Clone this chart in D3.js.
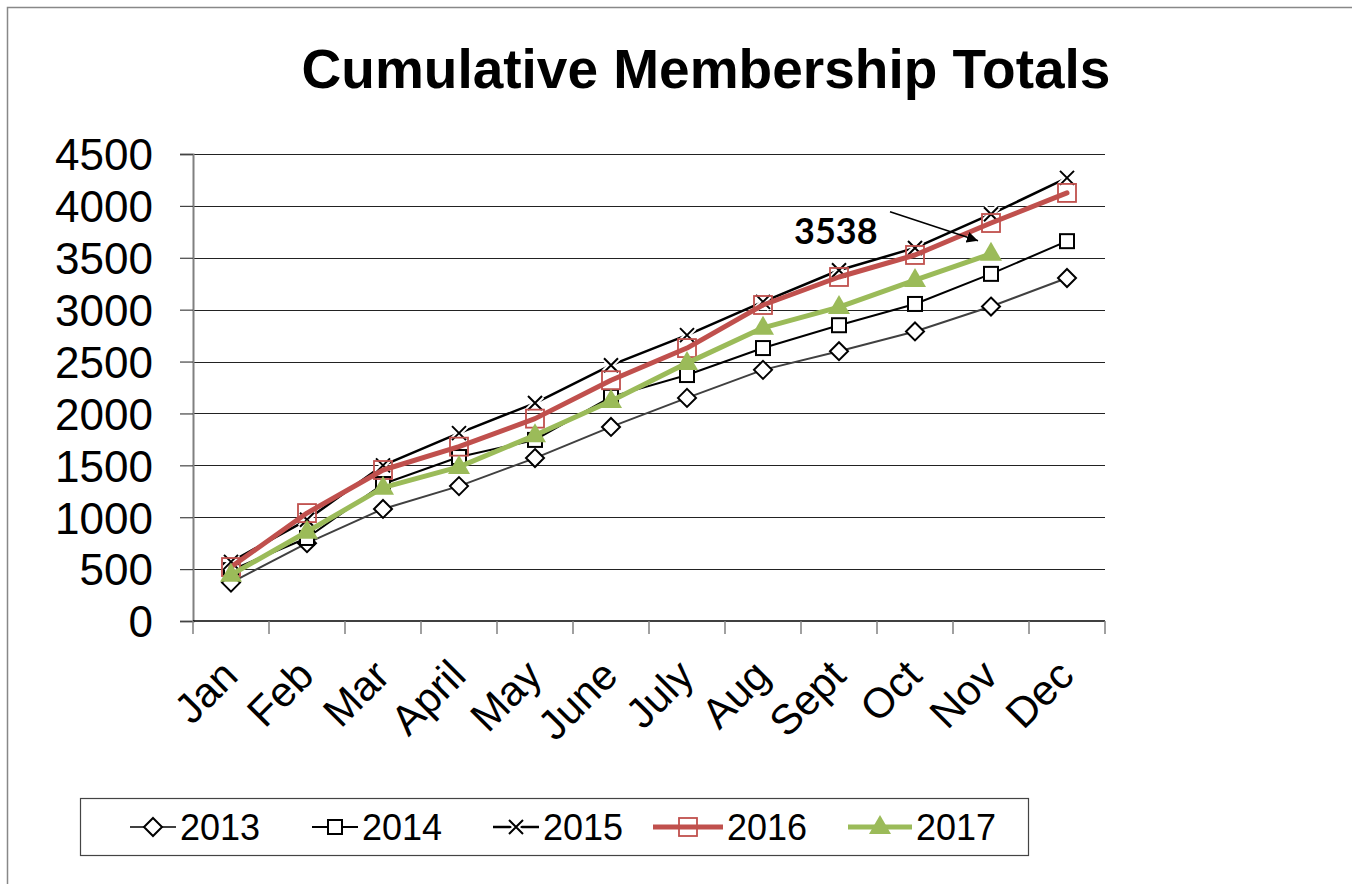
<!DOCTYPE html>
<html>
<head>
<meta charset="utf-8">
<script src="https://cdn.jsdelivr.net/npm/d3@7"></script>
<style>
  body { margin: 0; background: #fff; }
  svg { display: block; font-family: "Liberation Sans", Arial, sans-serif; }
</style>
</head>
<body>
<div id="chart"></div>
<script>
// Cumulative membership line chart

// --- data ---
const months = ['Jan', 'Feb', 'Mar', 'April', 'May', 'June', 'July', 'Aug', 'Sept', 'Oct', 'Nov', 'Dec'];
const yTicks = [0, 500, 1000, 1500, 2000, 2500, 3000, 3500, 4000, 4500];
const seriesNames = ['2013', '2014', '2015', '2016', '2017'];

const values2013 = [370, 750, 1080, 1300, 1570, 1870, 2150, 2420, 2600, 2790, 3030, 3305];
const values2014 = [490, 800, 1320, 1580, 1745, 2160, 2370, 2630, 2850, 3055, 3345, 3660];
const values2015 = [570, 975, 1500, 1810, 2100, 2465, 2755, 3075, 3380, 3595, 3920, 4270];
const values2016 = [520, 1040, 1455, 1680, 1950, 2320, 2630, 3045, 3315, 3527, 3835, 4125];
const values2017 = [445, 860, 1285, 1485, 1790, 2120, 2485, 2825, 3025, 3285, 3538];

const calloutValue = 3538;

// --- styles ---
const styles = {
  '2013': { stroke: '#404040', width: 2, marker: 'diamond', legendX: 130, sample: 46 },
  '2014': { stroke: '#000', width: 2, marker: 'square', legendX: 312, sample: 46 },
  '2015': { stroke: '#000', width: 2.5, marker: 'cross', legendX: 493, sample: 46 },
  '2016': { stroke: '#C0504D', width: 5, marker: 'redsquare', legendX: 653, sample: 70 },
  '2017': { stroke: '#9BBB59', width: 5, marker: 'triangle', legendX: 848, sample: 64 }
};

const seriesData = [values2013, values2014, values2015, values2016, values2017];
const series = seriesNames.map((name, i) => ({
  name,
  values: seriesData[i].map((v, j) => ({ month: months[j], value: v })),
  style: styles[name]
}));

const width = 1352, height = 884;
const plot = { left: 193, right: 1105, top: 154, bottom: 621 };

const svg = d3.select('#chart').append('svg')
  .attr('width', width)
  .attr('height', height);

svg.append('defs').append('marker')
  .attr('id', 'arrow')
  .attr('viewBox', '0 0 10 10')
  .attr('refX', 10).attr('refY', 5)
  .attr('markerWidth', 7).attr('markerHeight', 7)
  .attr('markerUnits', 'strokeWidth')
  .attr('orient', 'auto')
  .append('path')
  .attr('d', 'M0,0 L10,5 L0,10 Z')
  .attr('fill', '#000');

// outer frame (top + left edges visible)
svg.append('path')
  .attr('d', `M7.5,${height} L7.5,7.5 L${width},7.5`)
  .attr('fill', 'none')
  .attr('stroke', '#888')
  .attr('stroke-width', 1.5);

// title
svg.append('text')
  .attr('x', 706)
  .attr('y', 88)
  .attr('text-anchor', 'middle')
  .style('font-size', '55px')
  .style('font-weight', 'bold')
  .text('Cumulative Membership Totals');

// scales
const x = d3.scaleBand()
  .domain(months)
  .range([plot.left, plot.right])
  .padding(0);

const y = d3.scaleLinear()
  .domain([0, 4500])
  .range([plot.bottom, plot.top]);

const cx = m => x(m) + x.bandwidth() / 2;

// gridlines
svg.append('g')
  .selectAll('line')
  .data(yTicks.filter(d => d > 0))
  .join('line')
  .attr('x1', plot.left).attr('x2', plot.right)
  .attr('y1', d => Math.round(y(d)) + 0.5)
  .attr('y2', d => Math.round(y(d)) + 0.5)
  .attr('stroke', '#222')
  .attr('stroke-width', 1.2);

// y axis
const yAxis = svg.append('g')
  .attr('transform', `translate(${plot.left},0)`)
  .call(d3.axisLeft(y).tickValues(yTicks).tickFormat(d3.format('d')).tickSize(13).tickPadding(27));
yAxis.select('.domain').attr('stroke', '#808080').attr('stroke-width', 2);
yAxis.selectAll('.tick line').attr('stroke', '#444').attr('stroke-width', 1.2);
yAxis.selectAll('.tick text')
  .style('font-size', '44px')
  .style('font-family', '"Liberation Sans", Arial, sans-serif')
  .attr('fill', '#000')
  .attr('dy', '0.36em');

// x axis: baseline + boundary ticks
const xAxisG = svg.append('g');
xAxisG.append('line')
  .attr('x1', plot.left).attr('x2', plot.right)
  .attr('y1', plot.bottom).attr('y2', plot.bottom)
  .attr('stroke', '#000').attr('stroke-width', 1.5);
const boundaries = months.map(m => x(m)).concat([x(months[months.length - 1]) + x.bandwidth()]);
xAxisG.selectAll('.xtick')
  .data(boundaries)
  .join('line')
  .attr('class', 'xtick')
  .attr('x1', d => d).attr('x2', d => d)
  .attr('y1', plot.bottom).attr('y2', plot.bottom + 13)
  .attr('stroke', '#808080').attr('stroke-width', 1.5);

xAxisG.selectAll('.xlabel')
  .data(months)
  .join('text')
  .attr('class', 'xlabel')
  .attr('transform', d => `translate(${cx(d) + 9},${plot.bottom + 57}) rotate(-45)`)
  .attr('text-anchor', 'end')
  .style('font-size', '42px')
  .text(d => d);

// marker shapes
function drawMarker(sel, type) {
  if (type === 'diamond') {
    sel.append('path').attr('d', 'M0,-9 L9,0 L0,9 L-9,0 Z')
      .attr('fill', '#fff').attr('stroke', '#000').attr('stroke-width', 2);
  } else if (type === 'square') {
    sel.append('rect').attr('x', -7).attr('y', -7).attr('width', 14).attr('height', 14)
      .attr('fill', '#fff').attr('stroke', '#000').attr('stroke-width', 2);
  } else if (type === 'cross') {
    sel.append('path').attr('d', 'M-7,-7 L7,7 M-7,7 L7,-7')
      .attr('stroke', '#fff').attr('stroke-width', 6);
    sel.append('path').attr('d', 'M-7,-7 L7,7 M-7,7 L7,-7')
      .attr('stroke', '#000').attr('stroke-width', 2);
  } else if (type === 'redsquare') {
    sel.append('rect').attr('x', -9).attr('y', -9).attr('width', 18).attr('height', 18)
      .attr('fill', 'none').attr('stroke', '#C0504D').attr('stroke-width', 1.8);
  } else if (type === 'triangle') {
    sel.append('path').attr('d', 'M0,-12 L11,7 L-11,7 Z')
      .attr('fill', '#9BBB59');
  }
}

// lines + markers
const line = d3.line()
  .x(d => cx(d.month))
  .y(d => y(d.value));

series.forEach(s => {
  const g = svg.append('g').attr('class', 'series');
  g.append('path')
    .datum(s.values)
    .attr('d', line)
    .attr('fill', 'none')
    .attr('stroke', s.style.stroke)
    .attr('stroke-width', s.style.width)
    .attr('stroke-linejoin', 'round')
    .attr('stroke-linecap', 'round');
  g.selectAll('.pt')
    .data(s.values)
    .join('g')
    .attr('class', 'pt')
    .attr('transform', d => `translate(${cx(d.month)},${y(d.value)})`)
    .each(function() { drawMarker(d3.select(this), s.style.marker); });
});

// callout for Nov 2017
const tipX = cx('Nov') - 13;
const tipY = y(calloutValue) - 13;
svg.append('line')
  .attr('x1', tipX - 88).attr('y1', tipY - 29)
  .attr('x2', tipX).attr('y2', tipY)
  .attr('stroke', '#000')
  .attr('stroke-width', 1.6)
  .attr('marker-end', 'url(#arrow)');
svg.append('text')
  .attr('x', tipX - 184)
  .attr('y', tipY + 3)
  .style('font-family', 'Lato, "Open Sans", sans-serif')
  .style('font-weight', 'bold')
  .style('font-size', '36px')
  .text(calloutValue);

// legend
const legend = svg.append('g');
legend.append('rect')
  .attr('x', 80.5).attr('y', 798.5)
  .attr('width', 948).attr('height', 57)
  .attr('fill', '#fff')
  .attr('stroke', '#444')
  .attr('stroke-width', 1.2);

series.forEach(s => {
  const lx = s.style.legendX;
  const ly = 827;
  const item = legend.append('g');
  item.append('line')
    .attr('x1', lx).attr('x2', lx + s.style.sample)
    .attr('y1', ly).attr('y2', ly)
    .attr('stroke', s.style.stroke)
    .attr('stroke-width', s.style.width);
  const mk = item.append('g').attr('transform', `translate(${lx + s.style.sample / 2},${ly})`);
  drawMarker(mk, s.style.marker);
  item.append('text')
    .attr('x', lx + s.style.sample + 4)
    .attr('y', ly + 13)
    .style('font-size', '36px')
    .text(s.name);
});
</script>
</body>
</html>
